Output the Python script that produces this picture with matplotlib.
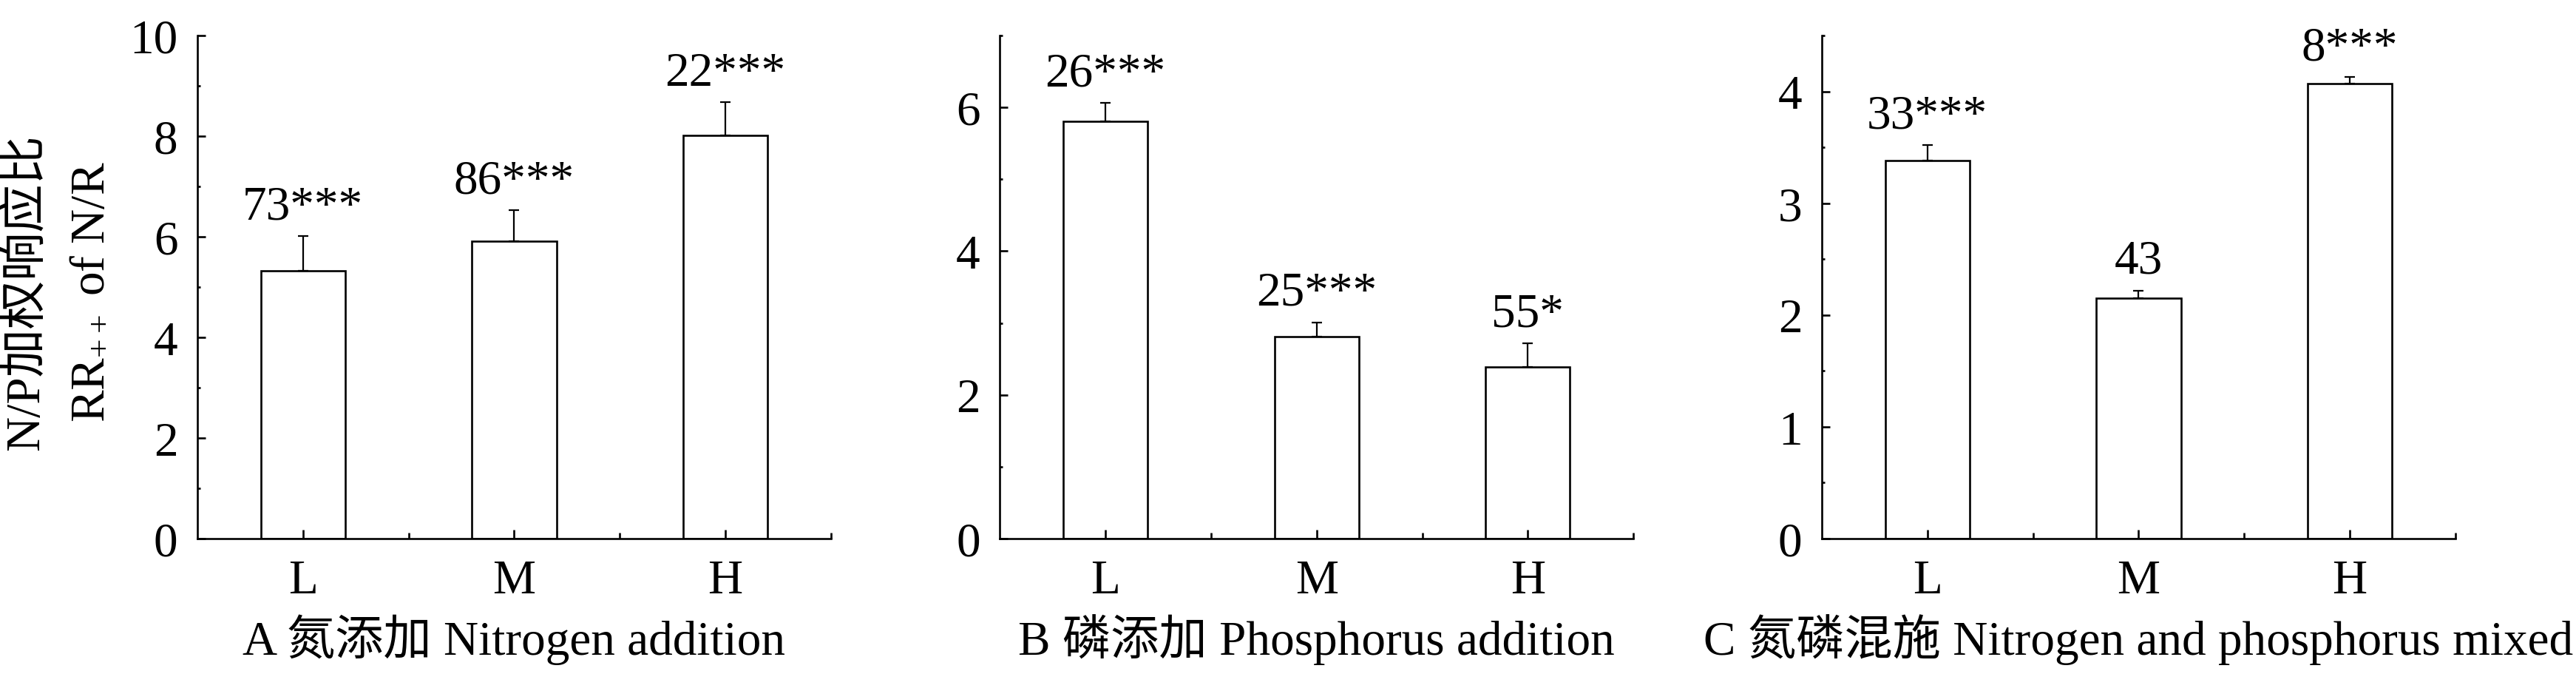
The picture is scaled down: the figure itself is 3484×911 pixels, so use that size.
import numpy as np
import matplotlib
matplotlib.use("Agg")
import matplotlib.pyplot as plt

plt.rcParams["font.family"] = ["Liberation Serif", "Noto Sans CJK SC"]
plt.rcParams["mathtext.fontset"] = "custom"
plt.rcParams["mathtext.rm"] = "Liberation Serif"
plt.rcParams["mathtext.it"] = "Liberation Serif"
plt.rcParams["mathtext.default"] = "regular"

levels = ["L", "M", "H"]

# A 氮添加
n_means = [5.32, 5.91, 8.01]
n_errs = [0.69, 0.62, 0.66]
n_labels = ["73***", "86***", "22***"]

# B 磷添加
p_means = [5.81, 2.81, 2.39]
p_errs = [0.25, 0.20, 0.33]
p_labels = ["26***", "25***", "55*"]

# C 氮磷混施
np_means = [3.38, 2.15, 4.07]
np_errs = [0.14, 0.07, 0.06]
np_labels = ["33***", "43", "8***"]

titles = ["A 氮添加 Nitrogen addition",
          "B 磷添加 Phosphorus addition",
          "C 氮磷混施 Nitrogen and phosphorus mixed"]
ylims = [10, 7, 4.5]
major_steps = [2, 2, 1]

FS = 47
LW = 1.9

fig = plt.figure(figsize=(34.84, 9.12), dpi=100)
lefts = [0.0766, 0.3881, 0.7072]

panels = [(n_means, n_errs, n_labels), (p_means, p_errs, p_labels),
          (np_means, np_errs, np_labels)]

for i, (means, errs, labels) in enumerate(panels):
    ax = fig.add_axes([lefts[i], 0.2007, 0.246, 0.7456])
    x = np.arange(len(levels))
    ax.bar(x, means, width=0.4, color="white", edgecolor="black", linewidth=LW)
    ax.errorbar(x, means, yerr=[np.zeros(3), errs], fmt="none", ecolor="black",
                elinewidth=1.6, capsize=5, capthick=1.6)
    for xi, m, e, lab in zip(x, means, errs, labels):
        ax.annotate(lab, xy=(xi, m + e), xytext=(0, 17), textcoords="offset points",
                    ha="center", va="baseline", fontsize=FS)

    ax.set_xlim(-0.5, 2.5)
    ax.set_ylim(0, ylims[i])
    ax.set_xticks(x)
    ax.set_xticklabels(levels)
    ax.set_xticks([0.5, 1.5, 2.5], minor=True)
    step = major_steps[i]
    ax.set_yticks(np.arange(0, ylims[i] + 0.01, step))
    ax.set_yticks(np.arange(step / 2, ylims[i] + 0.01, step), minor=True)

    for side in ["top", "right"]:
        ax.spines[side].set_visible(False)
    for side in ["left", "bottom"]:
        ax.spines[side].set_linewidth(LW)

    ax.tick_params(axis="both", which="both", direction="in", width=LW, labelsize=FS)
    ax.tick_params(axis="y", which="major", length=8, pad=19)
    ax.tick_params(axis="y", which="minor", length=3)
    ax.tick_params(axis="x", which="major", length=9, pad=20)
    ax.tick_params(axis="x", which="minor", length=5.5)

    ax.set_xlabel(titles[i], fontsize=FS, labelpad=10)

fig.text(0.0150, 0.567, "N/P加权响应比", rotation=90, rotation_mode="anchor",
         ha="center", va="baseline", fontsize=FS)
fig.text(0.0393, 0.567, r"RR$_{++}$ of N/R", rotation=90, rotation_mode="anchor",
         ha="center", va="baseline", fontsize=FS)

fig.savefig("out.png", dpi=100)
